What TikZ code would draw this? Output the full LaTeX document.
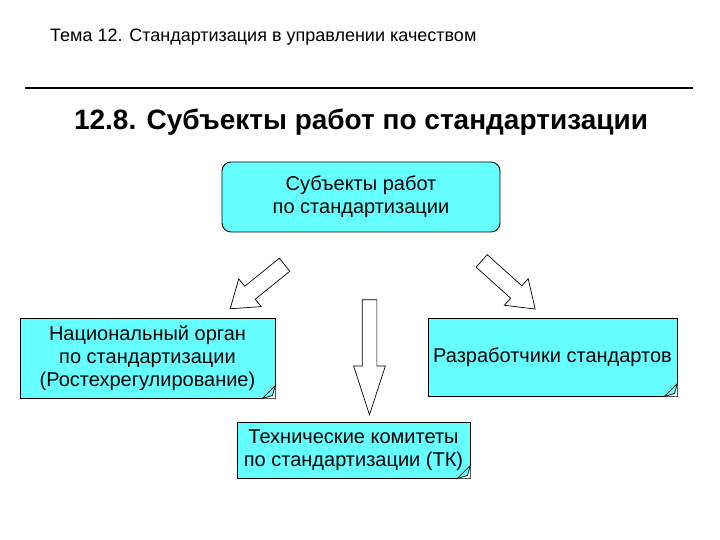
\documentclass[tikz,border=0pt]{standalone}
\usepackage{fontspec}
\setmainfont{Liberation Sans}
\usetikzlibrary{shapes.arrows}
\definecolor{cy}{HTML}{66FFFF}
\tikzset{
 box/.style={draw=black,fill=cy,line width=0.9pt,font=\fontsize{20}{23}\selectfont,align=center,inner sep=0pt},
 barrow/.style={single arrow,draw=black,fill=white,line width=0.7pt,inner sep=7pt,text height=0pt,text depth=0pt,text width=0pt}
}
\newcommand{\fold}[1]{\fill[white] (#1)++(-13,0) -- ++(13,-13) -- ++(0,13) -- cycle;
 \draw[line width=0.7pt,fill=cy] (#1)++(-13,0) -- ++(13,-13) -- ++(-3,10) -- cycle;}
\begin{document}
\begin{tikzpicture}[x=1pt,y=-1pt]
\useasboundingbox[fill=white] (0,0) rectangle (720,540);
\node[anchor=west,inner sep=0pt,font=\fontsize{18}{20}\selectfont] (hdr) at (50,37) {Тема 12. Стандартизация в управлении качеством};
\draw[line width=2.5pt] (25,88) coordinate (l1) -- (693,88) coordinate (l2);
\node[font=\bfseries\fontsize{28}{32}\selectfont] (ttl) at (361,122) {12.8. Субъекты работ по стандартизации};
\node[box,rounded corners=9pt,minimum width=278pt,minimum height=70pt] (top) at (361,197) {Субъекты работ\\по стандартизации};
\node[box,minimum width=255pt,minimum height=80pt] (left) at (147.5,358) {Национальный орган\\по стандартизации\\(Ростехрегулирование)};
\fold{left.south east}
\node[box,minimum width=249pt,minimum height=78pt] (right) at (552.5,357) {Разработчики стандартов};
\fold{right.south east}
\node[box,minimum width=233pt,minimum height=56pt] (bot) at (353.5,450) {Технические комитеты\\по стандартизации (ТК)};
\fold{bot.south east}
\node[barrow,minimum height=115pt,minimum width=31pt,single arrow head extend=8.5pt,single arrow tip angle=36,rotate=-90] (am) at (369.5,346) {};
\node[barrow,inner sep=8pt,minimum height=70pt,minimum width=35pt,single arrow head extend=9.5pt,single arrow tip angle=70,rotate=-141] (al) at (262,283) {};
\node[barrow,inner sep=8pt,minimum height=72pt,minimum width=35pt,single arrow head extend=9.5pt,single arrow tip angle=70,rotate=-42] (ar) at (504,281) {};
\end{tikzpicture}
\end{document}
